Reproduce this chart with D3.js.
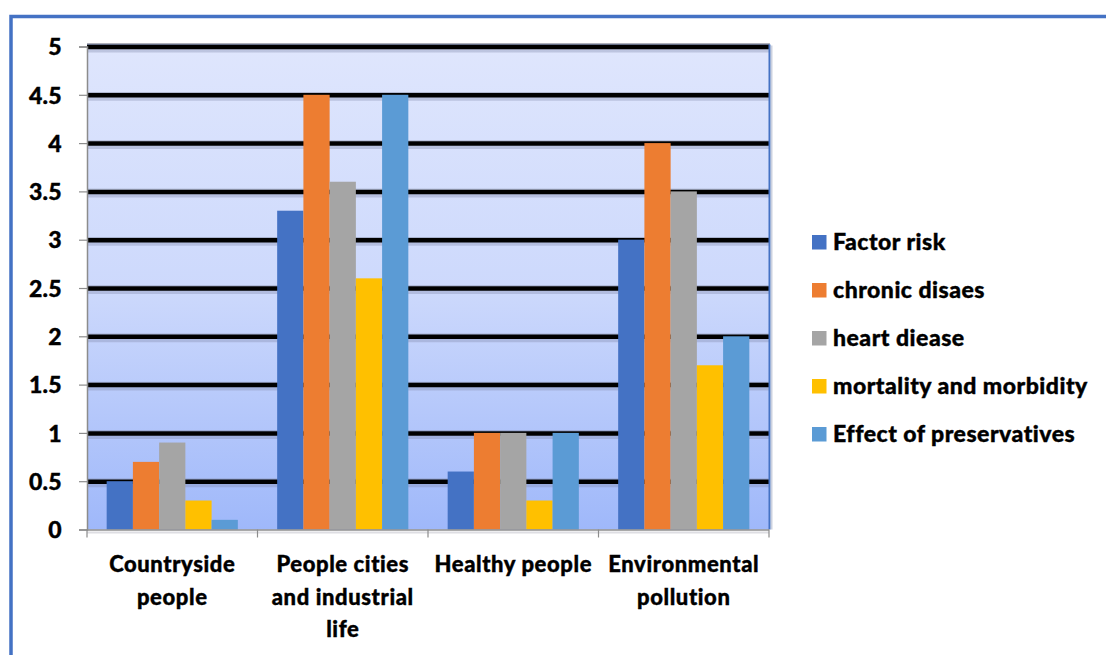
<!DOCTYPE html>
<html><head><meta charset="utf-8">
<script src="https://cdn.jsdelivr.net/npm/d3@7"></script>
<style>
html,body{margin:0;padding:0;background:#fff;}
svg{display:block;font-family:Lato,"Open Sans",sans-serif;font-weight:900;}
</style></head>
<body><svg id="c" width="1106" height="655"></svg>
<script>
const categories = ["Countryside people","People cities and industrial life","Healthy people","Environmental pollution"];
const categoryLines = [["Countryside","people"],["People cities","and industrial","life"],["Healthy people"],["Environmental","pollution"]];
const seriesNames = ["Factor risk","chronic disaes","heart diease","mortality and morbidity","Effect of preservatives"];
const factorRisk = [0.5, 3.3, 0.6, 3.0];
const chronicDisaes = [0.7, 4.5, 1.0, 4.0];
const heartDiease = [0.9, 3.6, 1.0, 3.5];
const mortalityMorbidity = [0.3, 2.6, 0.3, 1.7];
const effectPreservatives = [0.1, 4.5, 1.0, 2.0];
const yTicks = [0,0.5,1,1.5,2,2.5,3,3.5,4,4.5,5];
const colors = ["#4472C4","#ED7D31","#A5A5A5","#FFC000","#5B9BD5"];

const seriesValues = [factorRisk, chronicDisaes, heartDiease, mortalityMorbidity, effectPreservatives];

const svg = d3.select("#c");
const L = 87, R = 769, T = 46.5, B = 529.5;

svg.append("rect").attr("x",11).attr("y",16.5).attr("width",1300).attr("height",1000)
  .attr("fill","#fff").attr("stroke","#4472C4").attr("stroke-width",3.5);

const defs = svg.append("defs");
const grad = defs.append("linearGradient").attr("id","bg").attr("x1",0).attr("y1",0).attr("x2",0).attr("y2",1);
grad.append("stop").attr("offset","0%").attr("stop-color","#dfe6fd");
grad.append("stop").attr("offset","50%").attr("stop-color","#cdd9fc");
grad.append("stop").attr("offset","100%").attr("stop-color","#9fb8fa");

const y = d3.scaleLinear().domain([0,5]).range([B,T]);
const x = d3.scaleBand().domain(categories).range([L,R]).paddingInner(0).paddingOuter(0);
const cw = x.bandwidth();
const gap = cw/(5+1.5)*1.5;
const xs = d3.scaleBand().domain(seriesNames).range([gap/2, cw-gap/2]).padding(0);

svg.append("rect").attr("x",L).attr("y",T-2.5).attr("width",R-L).attr("height",B-T+2.5).attr("fill","url(#bg)");
svg.append("line").attr("x1",L).attr("x2",R+1).attr("y1",T-2.5).attr("y2",T-2.5).attr("stroke","#6a6f80").attr("stroke-width",1.2);
svg.append("line").attr("x1",L).attr("x2",R+1).attr("y1",T-1).attr("y2",T-1).attr("stroke","#4472C4").attr("stroke-width",1.5);

const grid = svg.append("g");
yTicks.filter(v=>v>0).forEach(v=>{
  grid.append("line").attr("x1",L).attr("x2",R).attr("y1",y(v)+4).attr("y2",y(v)+4)
    .attr("stroke","#7d86a8").attr("stroke-opacity",0.35).attr("stroke-width",4);
  grid.append("line").attr("x1",L).attr("x2",R).attr("y1",y(v)-2.2).attr("y2",y(v)-2.2)
    .attr("stroke","#8088a0").attr("stroke-opacity",0.5).attr("stroke-width",1);
  grid.append("line").attr("x1",L).attr("x2",R).attr("y1",y(v)+0.5).attr("y2",y(v)+0.5)
    .attr("stroke","#000").attr("stroke-width",4.5);
});

const groups = svg.append("g").selectAll("g").data(categories).join("g")
  .attr("transform",d=>`translate(${x(d)},0)`);
groups.selectAll("rect").data((d,i)=>seriesNames.map((s,j)=>({s,j,v:seriesValues[j][i]}))).join("rect")
  .attr("x",d=>xs(d.s)).attr("width",xs.bandwidth())
  .attr("y",d=>y(d.v)).attr("height",d=>B-y(d.v))
  .attr("fill",d=>colors[d.j]);

svg.append("line").attr("x1",R+0.5).attr("x2",R+0.5).attr("y1",T-2).attr("y2",B).attr("stroke","#4472C4").attr("stroke-width",2);
svg.append("line").attr("x1",R+2.5).attr("x2",R+2.5).attr("y1",T-1).attr("y2",B).attr("stroke","#9aa3c0").attr("stroke-opacity",0.5).attr("stroke-width",2);

const txtStyle = (sel, ls) => sel.attr("font-weight",900).attr("font-family","Lato").attr("fill","#000")
  .attr("stroke","#000").attr("stroke-width",0.4).attr("letter-spacing",ls+"px");

const yAxis = svg.append("g").attr("transform",`translate(${L},0)`)
  .call(d3.axisLeft(y).tickValues(yTicks).tickSize(8).tickPadding(17).tickFormat(d=>String(d)));
yAxis.select(".domain").attr("stroke","#8c8c8c").attr("stroke-width",1.5);
yAxis.selectAll(".tick line").attr("stroke","#8c8c8c").attr("stroke-width",1.2);
yAxis.selectAll(".tick text").attr("font-size",23).attr("dy","0.36em").call(txtStyle, 0.3);

const xAxis = svg.append("g").attr("transform",`translate(0,${B})`)
  .call(d3.axisBottom(x).tickSize(0).tickFormat(""));
xAxis.select(".domain").remove();
svg.append("line").attr("x1",L).attr("x2",R).attr("y1",B+0.5).attr("y2",B+0.5).attr("stroke","#8c8c8c").attr("stroke-width",1.5);
svg.append("line").attr("x1",L).attr("x2",R).attr("y1",B+3).attr("y2",B+3).attr("stroke","#c8c8d0").attr("stroke-opacity",0.6).attr("stroke-width",2);
const bounds = [L].concat(categories.map(c=>x(c)+cw));
svg.append("g").selectAll("line").data(bounds).join("line")
  .attr("x1",d=>d).attr("x2",d=>d).attr("y1",B).attr("y2",B+8).attr("stroke","#8c8c8c").attr("stroke-width",1.2);

categories.forEach((c,i)=>{
  const t = svg.append("text").attr("text-anchor","middle").attr("font-size",22).call(txtStyle, 0.6);
  categoryLines[i].forEach((ln,k)=>{
    t.append("tspan").attr("x",x(c)+cw/2).attr("y",572+k*32.5).text(ln);
  });
});

const lg = svg.append("g");
seriesNames.forEach((s,i)=>{
  const cy = 242 + i*48;
  lg.append("rect").attr("x",812).attr("y",cy-7).attr("width",14.5).attr("height",14.5).attr("fill",colors[i]);
  lg.append("text").attr("x",833).attr("y",cy).attr("dy","0.36em").attr("font-size",23).call(txtStyle, 0.5).text(s);
});
</script></body></html>
